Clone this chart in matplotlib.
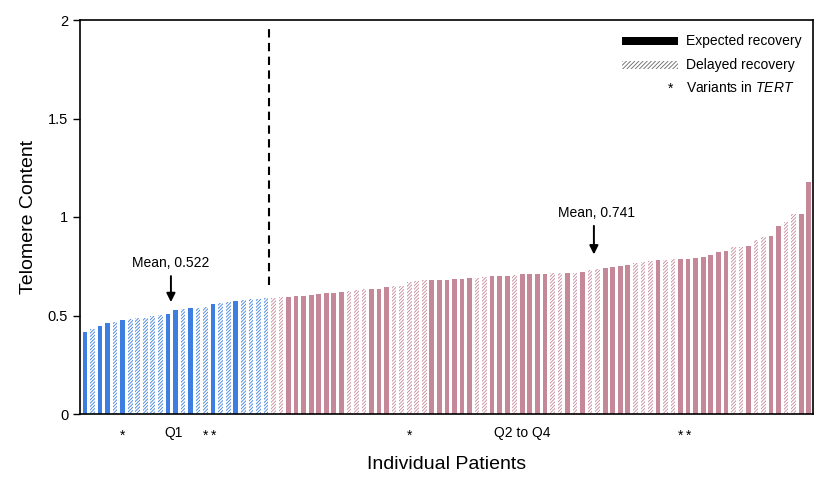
import matplotlib
matplotlib.use('Agg')
import matplotlib.pyplot as plt
from matplotlib.patches import Rectangle
from matplotlib.transforms import blended_transform_factory
import numpy as np

plt.rcParams['font.family'] = ['Liberation Sans', 'DejaVu Sans']
plt.rcParams['mathtext.fontset'] = 'custom'
plt.rcParams['mathtext.it'] = 'Liberation Sans:italic'
plt.rcParams['mathtext.rm'] = 'Liberation Sans'
plt.rcParams['hatch.linewidth'] = 0.6

# ---- data ----
q1_values = [0.418, 0.431, 0.445, 0.462, 0.465, 0.477, 0.482, 0.486, 0.489, 0.499,
             0.504, 0.508, 0.529, 0.533, 0.537, 0.540, 0.542, 0.557, 0.563, 0.567,
             0.574, 0.579, 0.584, 0.585, 0.587]
q1_delayed = [0, 1, 0, 0, 1, 0, 1, 1, 1, 1, 1, 0, 0, 1, 0, 1, 1, 0, 1, 1, 0, 1, 1, 1, 1]

q234_values = [0.587, 0.592, 0.596, 0.599, 0.600, 0.603, 0.608, 0.613, 0.616, 0.619,
               0.625, 0.627, 0.633, 0.635, 0.635, 0.644, 0.650, 0.651, 0.669, 0.677,
               0.680, 0.680, 0.679, 0.680, 0.683, 0.684, 0.688, 0.689, 0.694, 0.698,
               0.699, 0.701, 0.706, 0.709, 0.711, 0.711, 0.712, 0.714, 0.716, 0.717,
               0.717, 0.719, 0.731, 0.735, 0.740, 0.744, 0.749, 0.755, 0.769, 0.773,
               0.776, 0.780, 0.783, 0.786, 0.787, 0.789, 0.792, 0.795, 0.807, 0.821,
               0.827, 0.848, 0.848, 0.853, 0.882, 0.897, 0.905, 0.956, 0.973, 1.014,
               1.017, 1.176]
q234_delayed = [1, 1, 0, 0, 0, 0, 0, 0, 0, 0,
                1, 1, 1, 0, 0, 0, 1, 1, 1, 1,
                1, 0, 0, 0, 0, 0, 0, 1, 1, 0,
                0, 0, 1, 0, 0, 0, 0, 1, 1, 0,
                1, 0, 1, 1, 0, 0, 0, 0, 1, 1,
                1, 0, 1, 1, 0, 0, 0, 0, 0, 0,
                0, 1, 1, 0, 1, 1, 0, 0, 1, 1,
                0, 0]
q1_mean = 0.522
q234_mean = 0.741
tert_variant_idx = [5, 16, 17, 43, 79, 80]
yticks = [0, 0.5, 1, 1.5, 2]
ytick_labels = ['0', '0.5', '1', '1.5', '2']

blue = '#3d7fe0'
pink = '#c48899'

fig = plt.figure(figsize=(8.28, 4.88), dpi=100)
ax = fig.add_axes([80/828, 1 - 414/488, 733/828, 394/488])

values = q1_values + q234_values
delayed = q1_delayed + q234_delayed
colors = [blue] * len(q1_values) + [pink] * len(q234_values)
x = np.arange(len(values))
for xi, v, d, c in zip(x, values, delayed, colors):
    if d:
        ax.bar(xi, v, width=0.62, facecolor='white', edgecolor=c, linewidth=0,
               hatch='//////////')
    else:
        ax.bar(xi, v, width=0.62, color=c, linewidth=0)

n1 = len(q1_values)
ax.set_xlim(-0.66, len(values) - 0.44)
ax.set_ylim(0, 2)
ax.set_yticks(yticks)
ax.set_yticklabels(ytick_labels, fontsize=10.5)
ax.set_xticks([])
ax.tick_params(axis='y', direction='out', length=5, width=1)
for s in ax.spines.values():
    s.set_linewidth(1.2)

# divider
ax.plot([n1 - 0.6, n1 - 0.6], [0.655, 1.97], color='black', lw=1.5,
        ls=(0, (4, 2.6)))

# mean annotations
m1x = 11.4
ax.annotate('', xy=(m1x, 0.568), xytext=(m1x, 0.70),
            arrowprops=dict(arrowstyle='-|>', color='black', lw=1.4,
                            mutation_scale=13, shrinkA=0, shrinkB=0))
ax.text(m1x, 0.765, 'Mean, %.3f' % q1_mean, ha='center', va='center', fontsize=10)
m2x = 67.5
ax.annotate('', xy=(m2x, 0.81), xytext=(m2x, 0.955),
            arrowprops=dict(arrowstyle='-|>', color='black', lw=1.4,
                            mutation_scale=13, shrinkA=0, shrinkB=0))
ax.text(m2x + 0.3, 1.02, 'Mean, %.3f' % q234_mean, ha='center', va='center', fontsize=10)

# below-axis labels
tr = blended_transform_factory(ax.transData, ax.transAxes)
for i in tert_variant_idx:
    ax.text(i, -0.055, '*', ha='center', va='center', fontsize=10, transform=tr)
ax.text(11.7, -0.048, 'Q1', ha='center', va='center', fontsize=10, transform=tr)
ax.text(58, -0.048, 'Q2 to Q4', ha='center', va='center', fontsize=10, transform=tr)

ax.set_xlabel('Individual Patients', fontsize=14, labelpad=30)
ax.set_ylabel('Telomere Content', fontsize=14, labelpad=8)

# legend
def axf(px, py):
    return ((px - 80) / 733, (414 - py) / 394)

x0, y0 = axf(622, 45)
ax.add_patch(Rectangle((x0, y0), 56 / 733, 8 / 394, transform=ax.transAxes,
                       facecolor='black', linewidth=0))
x0, y0 = axf(622, 69)
ax.add_patch(Rectangle((x0, y0), 56 / 733, 8 / 394, transform=ax.transAxes,
                       facecolor='white', edgecolor='#666666', linewidth=0,
                       hatch='////////'))
tx, ty = axf(686, 41)
ax.text(tx, ty, 'Expected recovery', transform=ax.transAxes, ha='left', va='center', fontsize=10)
tx, ty = axf(686, 65)
ax.text(tx, ty, 'Delayed recovery', transform=ax.transAxes, ha='left', va='center', fontsize=10)
sx, sy = axf(671, 89)
ax.text(sx, sy, '*', transform=ax.transAxes, ha='center', va='center', fontsize=10)
tx, ty = axf(686, 88)
ax.text(tx, ty, r'Variants in $\it{TERT}$', transform=ax.transAxes, ha='left',
        va='center', fontsize=10)

fig.savefig('out.png', dpi=100)
